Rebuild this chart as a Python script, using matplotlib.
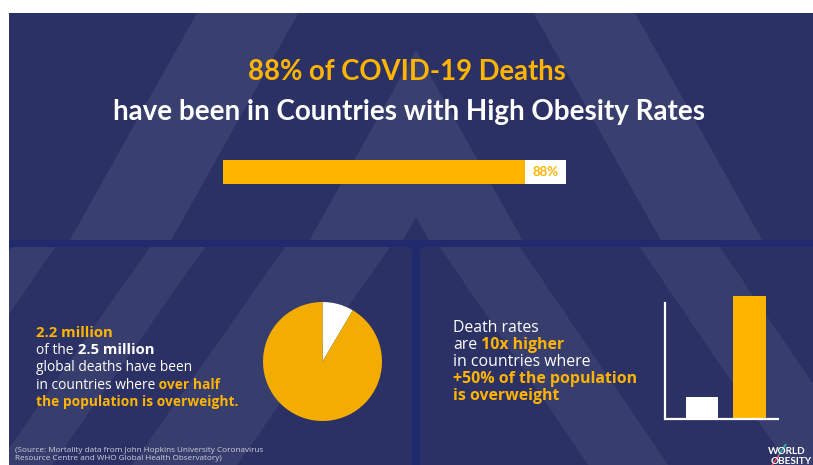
import matplotlib
matplotlib.use('Agg')
import matplotlib.pyplot as plt
from matplotlib.patches import Rectangle, Polygon, FancyBboxPatch

W, H = 813, 465

# ---------------- data ----------------
headline_share = [88]                       # % of COVID-19 deaths
headline_label = ['88%']
pie_labels = ['Other countries', 'High obesity countries']
pie_values = [8.5, 91.5]
bar_categories = ['Lower obesity', '+50% overweight']
bar_values = [1.0, 5.6]

NAVY = '#2b3164'
SEP = '#222a6e'
ORANGE = '#ffb400'
PIE_ORANGE = '#f2ad00'
WHITE = '#ffffff'
TITLE_FONT = ['Lato', 'DejaVu Sans']
BODY_FONT = ['Open Sans', 'DejaVu Sans']

fig = plt.figure(figsize=(W / 100, H / 100), dpi=100)
fig.patch.set_facecolor('white')


def px_axes(x0, y0, x1, y1, **kw):
    return fig.add_axes([x0 / W, 1 - y1 / H, (x1 - x0) / W, (y1 - y0) / H], **kw)


bg = px_axes(0, 0, W, H)
bg.set_xlim(0, W)
bg.set_ylim(H, 0)
bg.axis('off')

bg.add_patch(Rectangle((9, 13), W - 9, H - 13, color=SEP, lw=0))
top = Rectangle((9, 13), W - 9, 240 - 13, color=NAVY, lw=0)
bg.add_patch(top)
lp = FancyBboxPatch((9, 247), 403, 240, boxstyle='round,pad=0,rounding_size=6', color=NAVY, lw=0)
rp = FancyBboxPatch((420, 247), 410, 240, boxstyle='round,pad=0,rounding_size=6', color=NAVY, lw=0)
bg.add_patch(lp)
bg.add_patch(rp)


def chevron(cx, ao, ai, s, yb=260):
    return [(cx - (yb - ao) * s, yb), (cx, ao), (cx + (yb - ao) * s, yb),
            (cx + (yb - ai) * s, yb), (cx, ai), (cx - (yb - ai) * s, yb)]


for a_o, a_i in [(-378, -197), (50, 217)]:
    p = Polygon(chevron(416, a_o, a_i, 0.56), closed=True, color='white', alpha=0.07, lw=0)
    bg.add_patch(p)
    p.set_clip_path(top)

# lower-left panel "/" bands
for x0, x1 in [(150, 205), (285, 390)]:
    p = Polygon([(x0, 247), (x1, 247), (x1 - 160, 475), (x0 - 160, 475)], color='white', alpha=0.06, lw=0)
    bg.add_patch(p)
    p.set_clip_path(lp)
p = Polygon([(9, 247), (55, 247), (-100, 475), (-150, 475)], color='white', alpha=0.06, lw=0)
bg.add_patch(p)
p.set_clip_path(lp)

# lower-right panel "\" bands
for x0, x1 in [(440, 520), (640, 720)]:
    p = Polygon([(x0, 247), (x1, 247), (x1 + 155, 475), (x0 + 155, 475)], color='white', alpha=0.06, lw=0)
    bg.add_patch(p)
    p.set_clip_path(rp)

# ---------------- titles ----------------
bg.text(407, 72, '88% of COVID-19 Deaths', color=ORANGE, fontsize=19.8, fontweight='bold',
        family=TITLE_FONT, ha='center', va='center')
bg.text(409, 112, 'have been in Countries with High Obesity Rates', color=WHITE, fontsize=20,
        fontweight='bold', family=TITLE_FONT, ha='center', va='center')

# ---------------- headline bar ----------------
axb = px_axes(223, 160, 566, 184)
axb.barh([0], [100], height=1, color=WHITE, lw=0)
axb.barh([0], headline_share, height=1, color=ORANGE, lw=0)
axb.set_xlim(0, 100)
axb.set_ylim(-0.5, 0.5)
axb.axis('off')
axb.text((headline_share[0] + 100) / 2, 0, headline_label[0], color=ORANGE, fontsize=9.5,
         fontweight='bold', family=TITLE_FONT, ha='center', va='center')

# ---------------- pie ----------------
axp = px_axes(263, 302, 382, 421)
axp.pie(pie_values, colors=[WHITE, PIE_ORANGE], startangle=90, counterclock=False,
        wedgeprops=dict(linewidth=0))
axp.set_xlim(-1, 1)
axp.set_ylim(-1, 1)
axp.set_aspect('equal')
axp.axis('off')

# ---------------- bar chart ----------------
axc = px_axes(665, 296, 779, 419)
axc.bar([0, 1], bar_values, width=0.674, color=[WHITE, ORANGE], lw=0)
axc.set_xlim(-0.779, 1.621)
axc.set_ylim(0, max(bar_values))
axc.patch.set_alpha(0)
for s in ['top', 'right']:
    axc.spines[s].set_visible(False)
for s in ['left', 'bottom']:
    axc.spines[s].set_color(WHITE)
    axc.spines[s].set_linewidth(1.6)
axc.spines['left'].set_bounds(0, max(bar_values) * 116 / 123)
axc.set_xticks([])
axc.set_yticks([])
axc.spines['bottom'].set_capstyle('butt')

# ---------------- mixed-style text ----------------
renderer = fig.canvas.get_renderer()


def rich_line(x, y, segments, size, digit_boost=1.0):
    for txt, col, wt in segments:
        sz = size * (digit_boost if any(c.isdigit() for c in txt) and wt == 'bold' else 1.0)
        t = bg.text(x, y, txt, color=col, fontsize=sz, fontweight=wt, family=BODY_FONT,
                    ha='left', va='baseline')
        x += t.get_window_extent(renderer).width


left_lines = [
    [('2.2 million', ORANGE, 'bold')],
    [('of the', WHITE, 'normal'), ('\u00a02.5 million', WHITE, 'bold')],
    [('global deaths have been', WHITE, 'normal')],
    [('in countries where', WHITE, 'normal'), ('\u00a0over half', ORANGE, 'bold')],
    [('the population is overweight.', ORANGE, 'bold')],
]
for i, segs in enumerate(left_lines):
    rich_line(36, 336.5 + i * 17.4, segs, 9.9, digit_boost=1.08)

right_lines = [
    [('Death rates', WHITE, 'normal')],
    [('are', WHITE, 'normal'), ('\u00a010x higher', ORANGE, 'bold')],
    [('in countries where', WHITE, 'normal')],
    [('+50% of the population', ORANGE, 'bold')],
    [('is overweight', ORANGE, 'bold')],
]
for i, segs in enumerate(right_lines):
    rich_line(453, 331.5 + i * 17.1, segs, 11.4)

# source
bg.text(15, 451.5, '(Source: Mortality data from John Hopkins University Coronavirus',
        color='#d0d2de', fontsize=5.85, family=BODY_FONT, ha='left', va='baseline')
bg.text(15, 460, 'Resource Centre and WHO Global Health Observatory)',
        color='#d0d2de', fontsize=5.85, family=BODY_FONT, ha='left', va='baseline')

# logo
bg.text(768, 454, 'WORLD', color=WHITE, fontsize=7.2, fontweight='bold', family=TITLE_FONT,
        ha='left', va='baseline')
bg.text(771, 464, 'OBESITY', color=WHITE, fontsize=7.2, fontweight='bold', family=TITLE_FONT,
        ha='left', va='baseline')
bg.plot([772, 779], [465, 455], color='#e8455a', lw=1.3, solid_capstyle='butt')
bg.plot([779, 786], [455, 444], color='#2bb3b0', lw=1.3, solid_capstyle='butt')

fig.savefig('out.png', dpi=100, facecolor=fig.get_facecolor())
